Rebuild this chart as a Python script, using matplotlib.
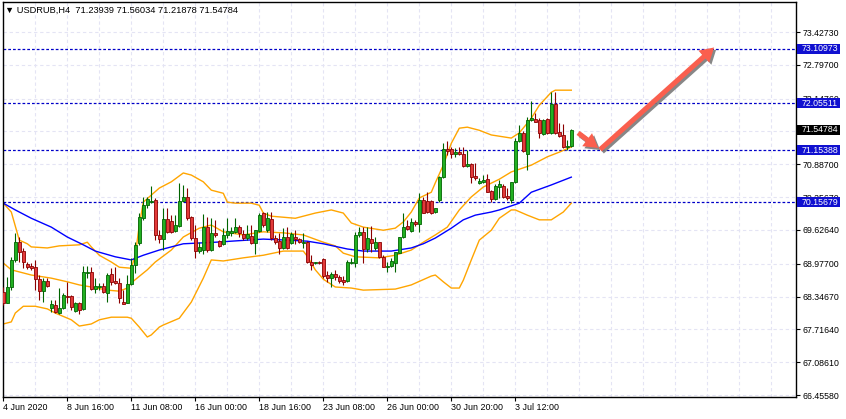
import matplotlib
matplotlib.use('Agg')
import matplotlib.pyplot as plt
import matplotlib.patheffects as pe
from matplotlib.patches import Rectangle
from matplotlib.transforms import blended_transform_factory

plt.rcParams['font.family'] = ['Liberation Sans Narrow', 'Liberation Sans', 'DejaVu Sans']

# USDRUB H4 candles
opens = [68.43, 68.22, 68.53, 69.05, 69.39, 69.22, 68.97, 68.93, 68.91, 68.68,
         68.45, 68.65, 68.13, 68.18, 68.03, 68.13, 68.36, 68.36, 68.07, 68.22,
         68.11, 68.80, 68.82, 68.49, 68.53, 68.55, 68.41, 68.78, 68.65, 68.61,
         68.24, 68.22, 68.59, 68.95, 69.37, 69.85, 70.10, 70.16, 70.20, 69.53,
         69.45, 69.84, 69.80, 69.61, 69.70, 70.18, 70.26, 69.87, 69.47, 69.22,
         69.24, 69.68, 69.24, 69.57, 69.41, 69.36, 69.53, 69.57, 69.59, 69.68,
         69.55, 69.47, 69.51, 69.37, 69.61, 69.95, 69.62, 69.84, 69.47, 69.41,
         69.28, 69.49, 69.37, 69.49, 69.45, 69.37, 69.39, 69.01, 68.99, 69.01,
         69.07, 68.76, 68.70, 68.78, 68.72, 68.66, 68.65, 68.99, 68.99, 69.53,
         69.59, 69.26, 69.45, 69.28, 69.39, 69.11, 68.91, 68.93, 68.99, 69.18,
         69.49, 69.70, 69.61, 69.78, 69.74, 70.20, 70.18, 70.18, 69.97, 70.20,
         70.64, 71.18, 71.18, 71.08, 71.12, 71.08, 70.85, 70.89, 70.66, 70.53,
         70.55, 70.60, 70.37, 70.22, 70.45, 70.47, 70.28, 70.20, 70.55, 71.33,
         71.49, 71.08, 71.74, 71.76, 71.74, 71.47, 71.76, 71.49, 72.04, 71.51,
         71.45, 71.22, 71.23939]
highs = [68.53, 68.72, 69.11, 69.57, 69.49, 69.28, 69.01, 68.99, 69.05, 68.76,
         68.70, 68.70, 68.28, 68.28, 68.51, 68.41, 68.63, 68.38, 68.24, 68.24,
         68.93, 68.93, 68.91, 68.70, 68.61, 68.61, 68.80, 68.89, 68.91, 68.70,
         68.47, 68.76, 69.09, 69.39, 69.95, 70.26, 70.26, 70.47, 70.24, 69.62,
         70.05, 70.05, 69.91, 69.91, 70.53, 70.49, 70.43, 69.89, 69.72, 69.39,
         69.93, 69.87, 69.85, 69.82, 69.43, 69.66, 69.85, 69.68, 69.85, 69.72,
         69.62, 69.72, 69.72, 69.62, 69.95, 69.97, 69.97, 69.97, 69.53, 69.57,
         69.66, 69.68, 69.59, 69.62, 69.47, 69.57, 69.41, 69.14, 69.01, 69.03,
         69.09, 68.84, 68.82, 68.86, 68.76, 68.74, 69.05, 69.09, 69.59, 69.68,
         69.68, 69.68, 69.70, 69.49, 69.39, 69.14, 69.01, 69.09, 69.20, 69.49,
         69.95, 69.82, 69.85, 69.82, 70.33, 70.26, 70.35, 70.20, 70.05, 70.66,
         71.29, 71.33, 71.22, 71.20, 71.22, 71.22, 71.16, 70.91, 70.91, 70.62,
         70.68, 70.70, 70.39, 70.51, 70.58, 70.51, 70.43, 70.55, 71.39, 71.64,
         71.53, 71.79, 72.10, 71.87, 71.77, 71.76, 71.77, 72.27, 72.27, 71.68,
         71.66, 71.35, 71.56034]
lows = [68.18, 68.22, 68.47, 69.01, 69.01, 68.89, 68.88, 68.86, 68.47, 68.28,
        68.24, 68.53, 68.05, 68.03, 68.01, 68.11, 68.22, 68.09, 68.05, 68.01,
        68.09, 68.70, 68.47, 68.41, 68.47, 68.41, 68.24, 68.57, 68.59, 68.22,
        68.20, 68.22, 68.57, 68.80, 69.34, 69.82, 70.05, 70.14, 69.43, 69.37,
        69.24, 69.57, 69.57, 69.59, 69.68, 70.16, 69.82, 69.43, 69.09, 69.18,
        69.16, 69.20, 69.22, 69.49, 69.30, 69.34, 69.47, 69.51, 69.57, 69.49,
        69.43, 69.43, 69.36, 69.16, 69.59, 69.68, 69.59, 69.43, 69.36, 69.16,
        69.26, 69.26, 69.36, 69.36, 69.37, 69.28, 68.99, 68.86, 68.97, 68.97,
        68.70, 68.63, 68.53, 68.66, 68.61, 68.57, 68.63, 68.97, 68.91, 69.49,
        68.99, 69.20, 69.20, 69.24, 69.09, 68.91, 68.82, 68.91, 68.82, 69.18,
        69.47, 69.62, 69.59, 69.70, 69.59, 69.95, 69.95, 69.93, 69.95, 70.16,
        70.62, 71.06, 71.01, 71.03, 71.06, 70.83, 70.83, 70.53, 70.58, 70.51,
        70.53, 70.35, 70.16, 70.20, 70.24, 70.24, 70.20, 70.14, 70.53, 71.31,
        71.12, 70.78, 71.72, 71.70, 71.39, 71.45, 71.47, 71.47, 71.47, 71.41,
        71.20, 71.16, 71.21878]
closes = [68.22, 68.53, 69.05, 69.39, 69.20, 69.01, 68.91, 68.89, 68.68, 68.45,
          68.65, 68.55, 68.20, 68.05, 68.13, 68.38, 68.34, 68.15, 68.22, 68.09,
          68.82, 68.82, 68.49, 68.55, 68.55, 68.43, 68.76, 68.63, 68.61, 68.32,
          68.20, 68.59, 68.95, 69.34, 69.87, 70.10, 70.22, 70.18, 69.53, 69.45,
          69.84, 69.59, 69.59, 69.72, 70.18, 70.26, 69.85, 69.47, 69.22, 69.30,
          69.68, 69.24, 69.57, 69.53, 69.32, 69.53, 69.61, 69.61, 69.68, 69.57,
          69.47, 69.55, 69.37, 69.62, 69.91, 69.72, 69.85, 69.47, 69.39, 69.28,
          69.49, 69.28, 69.55, 69.45, 69.39, 69.39, 69.01, 68.95, 69.00, 69.00,
          68.74, 68.70, 68.78, 68.72, 68.65, 68.63, 69.01, 69.01, 69.53, 69.59,
          69.26, 69.47, 69.37, 69.39, 69.11, 68.91, 68.93, 69.03, 69.20, 69.49,
          69.68, 69.64, 69.78, 69.74, 70.20, 69.95, 69.97, 69.95, 70.05, 70.64,
          71.18, 71.14, 71.08, 71.12, 71.08, 70.85, 70.89, 70.64, 70.62, 70.57,
          70.58, 70.35, 70.22, 70.47, 70.51, 70.26, 70.24, 70.55, 71.33, 71.49,
          71.14, 71.74, 71.77, 71.70, 71.49, 71.74, 71.49, 72.04, 71.49, 71.43,
          71.22, 71.24, 71.54784]

# Bollinger bands and moving average, sampled at bar positions
upper_idx = [0, 2, 3, 4, 6, 7, 11, 14, 19, 21, 22, 24, 27, 29, 32, 33, 34, 35, 39, 42,
             45, 47, 50, 52, 55, 56, 58, 62, 64, 65, 67, 73, 78, 82, 85, 87, 90, 95, 98, 100,
             102, 104, 107, 108, 110, 112, 114, 116, 119, 122, 127, 129, 132, 134, 137, 138, 142]
upper_val = [70.14, 69.97, 69.70, 69.43, 69.36, 69.30, 69.28, 69.32, 69.34, 69.39, 69.30, 69.14,
             69.01, 68.91, 68.89, 69.14, 69.72, 70.16, 70.43, 70.55, 70.72, 70.68, 70.55, 70.39,
             70.33, 70.16, 70.14, 70.14, 70.10, 69.95, 69.89, 69.85, 69.95, 70.01, 69.95, 69.76,
             69.68, 69.62, 69.66, 69.78, 69.97, 70.24, 70.35, 70.53, 70.87, 71.29, 71.58, 71.60,
             71.54, 71.45, 71.39, 71.49, 71.77, 72.02, 72.27, 72.31, 72.31]
middle_idx = [0, 2, 7, 12, 16, 19, 22, 26, 29, 31, 32, 36, 38, 42, 45, 49, 52, 55, 60, 65,
              70, 75, 80, 83, 85, 88, 94, 98, 102, 105, 108, 111, 114, 117, 120, 124, 127,
              132, 136, 139, 142]
middle_val = [68.99, 68.86, 68.76, 68.70, 68.63, 68.57, 68.53, 68.47, 68.45, 68.51, 68.61,
              68.86, 69.01, 69.24, 69.49, 69.66, 69.72, 69.59, 69.53, 69.59, 69.57, 69.53,
              69.39, 69.32, 69.18, 69.11, 69.09, 69.14, 69.24, 69.39, 69.53, 69.68, 70.01,
              70.26, 70.45, 70.60, 70.74, 70.87, 71.03, 71.12, 71.22]
lower_idx = [0, 2, 3, 5, 8, 11, 13, 17, 19, 22, 24, 27, 31, 32, 34, 36, 37, 39, 40, 44,
             47, 50, 52, 55, 60, 65, 70, 75, 76, 78, 80, 83, 87, 90, 98, 102, 107, 108, 110,
             112, 114, 115, 117, 119, 122, 124, 127, 128, 131, 134, 137, 140, 142]
lower_val = [67.82, 67.86, 68.03, 68.16, 68.16, 68.11, 68.03, 67.90, 67.78, 67.82, 67.90,
             67.95, 67.95, 67.93, 67.76, 67.57, 67.61, 67.76, 67.80, 67.93, 68.24, 68.70,
             69.05, 69.03, 69.09, 69.14, 69.22, 69.22, 69.12, 68.86, 68.68, 68.53, 68.51,
             68.47, 68.49, 68.57, 68.74, 68.76, 68.63, 68.51, 68.51, 68.66, 69.05, 69.43,
             69.62, 69.85, 70.01, 70.01, 69.91, 69.82, 69.82, 69.97, 70.14]
ma_idx = [0, 3, 7, 12, 16, 20, 23, 28, 32, 35, 39, 45, 53, 61, 65, 71, 76, 80, 86, 90,
          97, 102, 105, 108, 112, 115, 118, 122, 124, 129, 132, 137, 142]
ma_val = [70.14, 70.01, 69.85, 69.68, 69.49, 69.34, 69.22, 69.11, 69.05, 69.14, 69.24,
          69.36, 69.39, 69.43, 69.45, 69.43, 69.41, 69.36, 69.26, 69.22, 69.22, 69.28,
          69.36, 69.47, 69.66, 69.82, 69.91, 69.97, 70.01, 70.14, 70.35, 70.49, 70.64]

levels = [73.10973, 72.05511, 71.15388, 70.15679]
last_price = 71.54784
price_ticks = [73.42730, 72.79700, 72.14760, 71.51730, 70.88700, 70.25670,
               69.62640, 68.97700, 68.34670, 67.71640, 67.08610, 66.45580]
time_tick_bars = [0, 16, 32, 48, 64, 80, 96, 112, 128]
time_labels = ['4 Jun 2020', '8 Jun 16:00', '11 Jun 08:00', '16 Jun 00:00', '18 Jun 16:00',
               '23 Jun 08:00', '26 Jun 00:00', '30 Jun 20:00', '3 Jul 12:00']
title = '\u25bc USDRUB,H4  71.23939 71.56034 71.21878 71.54784'

# drawn arrows (bar, price)
arrow_small = ((143.7, 71.49), (148.7, 71.20))
arrow_big = ((149.2, 71.17), (177.7, 73.13))

W, H = 846, 419
fig = plt.figure(figsize=(W / 100, H / 100), dpi=100)
ax = fig.add_axes([2.5 / W, 1 - 397 / H, 793 / W, 395 / H])
ax.set_xlim(-0.2, 198.05)
ax.set_ylim(66.4175, 74.0035)

# grid
for b in range(0, 200, 8):
    ax.axvline(b, color='#e4e4f4', lw=0.8, ls=(0, (3, 2.5)), zorder=0)
for p in price_ticks:
    ax.axhline(p, color='#e4e4f4', lw=0.8, ls=(0, (3, 2.5)), zorder=0)

# levels
for lev in levels:
    ax.axhline(lev, color='#0000c8', lw=0.9, ls=(0, (2.2, 1.6)), zorder=1)

# indicators
ax.plot(upper_idx, upper_val, color='#ffa500', lw=1, zorder=2)
ax.plot(middle_idx, middle_val, color='#ffa500', lw=1, zorder=2)
ax.plot(lower_idx, lower_val, color='#ffa500', lw=1, zorder=2)
ax.plot(ma_idx, ma_val, color='#0000ff', lw=1, zorder=2)

# candles
for i, (o, h, l, c) in enumerate(zip(opens, highs, lows, closes)):
    up = c >= o
    edge = '#006400' if up else '#8b0000'
    face = '#22b022' if up else '#e23a3a'
    ax.vlines(i, l, h, color=edge, lw=0.8, zorder=3)
    body = max(abs(c - o), 0.012)
    ax.bar(i, body, bottom=min(o, c), width=0.75, color=face,
           edgecolor=edge, linewidth=0.6, zorder=4)

# arrows
shadow = [pe.SimplePatchShadow(offset=(1.5, -1.5), shadow_rgbFace='#7a7a7a', alpha=0.9),
          pe.Normal()]
for start, tip in (arrow_small, arrow_big):
    ax.annotate('', xy=tip, xytext=start,
                arrowprops=dict(arrowstyle='simple,head_width=1.3,head_length=1.1,tail_width=0.4',
                                mutation_scale=9, color='#fa5f4e', lw=0,
                                shrinkA=0, shrinkB=0, path_effects=shadow),
                zorder=6)

# axes styling
for s in ax.spines.values():
    s.set_color('black')
    s.set_linewidth(1)
ax.yaxis.tick_right()
ax.set_yticks(price_ticks)
ax.set_yticklabels([f'{p:.5f}' for p in price_ticks])
ax.set_xticks(time_tick_bars)
ax.set_xticklabels(time_labels, ha='left')
ax.tick_params(axis='y', length=3, width=0.8, labelsize=6.3, pad=2, colors='black')
ax.tick_params(axis='x', length=3, width=0.8, labelsize=6.4, pad=1, colors='black')

# price boxes on the right scale
trans = blended_transform_factory(ax.transAxes, ax.transData)
box_x0 = 1.5 / 793 + 1.0
box_w = 43 / 793
box_h = 10 * 0.019205
for lev in levels + [last_price]:
    col = 'black' if lev == last_price else '#1010d0'
    ax.add_patch(Rectangle((box_x0, lev - box_h / 2), box_w, box_h, transform=trans,
                           facecolor=col, edgecolor='none', clip_on=False, zorder=7))
    ax.text(box_x0 + 5 / 793, lev, f'{lev:.5f}', transform=trans, color='white',
            fontsize=6.3, va='center', ha='left', clip_on=False, zorder=8)

fig.text(5 / W, 1 - 10 / H, title, fontsize=6.7, va='center', ha='left',
         family=['Liberation Sans', 'DejaVu Sans'])

fig.savefig('out.png', dpi=100)
